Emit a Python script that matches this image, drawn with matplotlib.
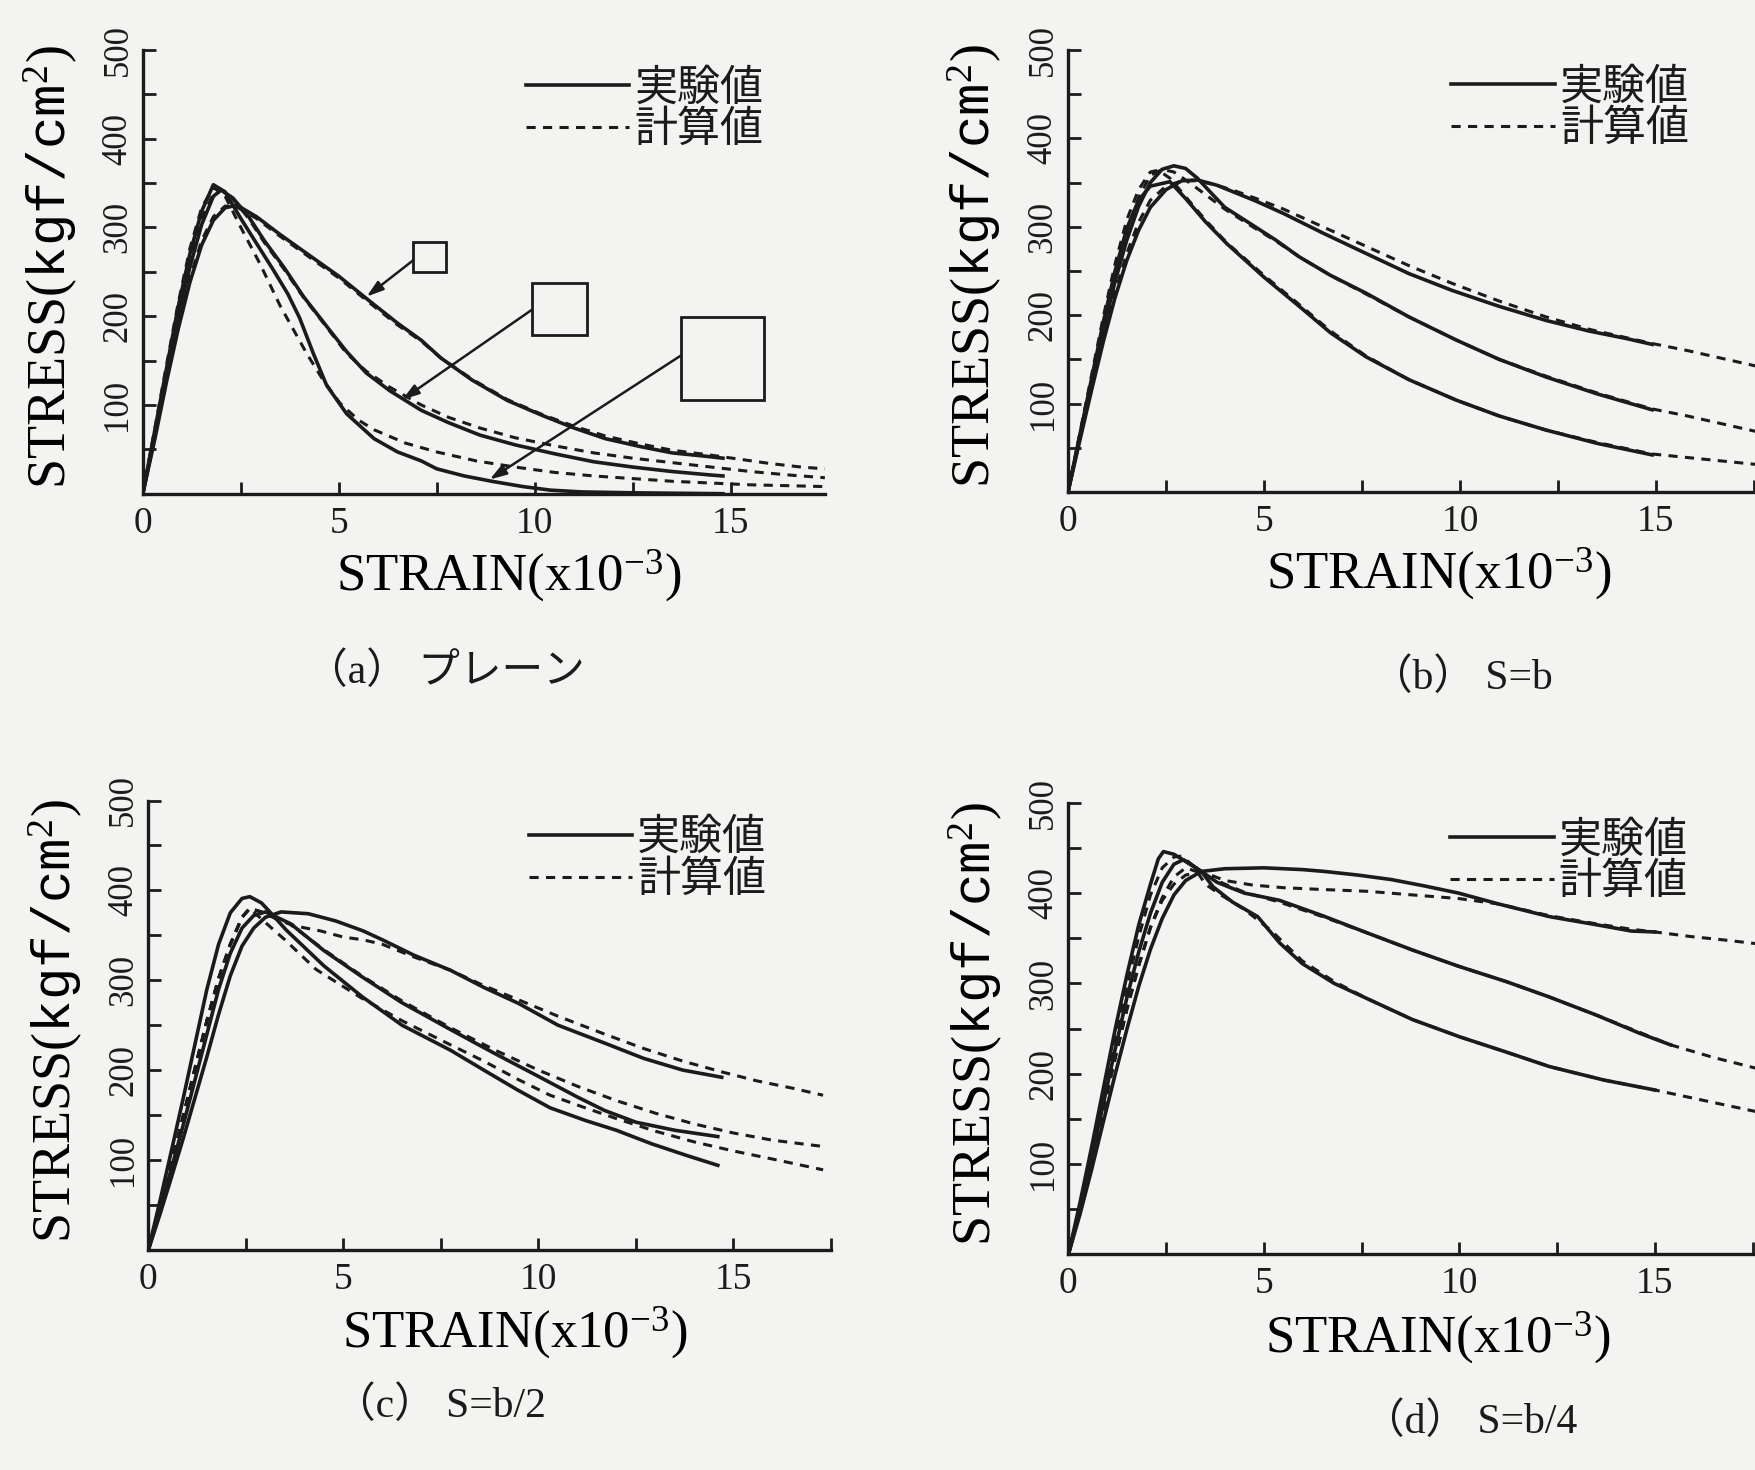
import matplotlib
matplotlib.use("Agg")
import matplotlib.pyplot as plt
from matplotlib.lines import Line2D
from matplotlib.patches import Rectangle
from matplotlib.ticker import FixedLocator

INK = "#1b1b1b"
PAPER = "#f3f3f1"

# ---------------------------------------------------------------------------
# Stress-strain data: (strain x1e-3, stress kgf/cm2)
# (a) plain concrete, three specimen sizes (small / medium / large)
PLAIN_EXP_SMALL = [(0, 0), (0.3, 60), (0.6, 125), (0.9, 185), (1.2, 238), (1.5, 280),
                   (1.8, 308), (2.1, 322), (2.4, 325), (2.9, 312), (3.5, 292), (4.2, 270),
                   (5.0, 245), (5.7, 220), (6.5, 192), (7.1, 173), (7.6, 153), (8.4, 128),
                   (9.3, 105), (10.2, 88), (11.0, 74), (11.8, 62), (12.7, 53), (13.5, 46),
                   (14.4, 42), (14.8, 40)]
PLAIN_CAL_SMALL = [(0, 0), (0.3, 62), (0.6, 128), (0.9, 190), (1.2, 243), (1.5, 285),
                   (1.8, 312), (2.1, 324), (2.4, 323), (2.9, 310), (3.5, 290), (4.2, 268),
                   (5.0, 243), (5.7, 218), (6.5, 190), (7.1, 172), (7.6, 153), (8.4, 129),
                   (9.3, 106), (10.2, 89), (11.0, 76), (11.8, 65), (12.7, 56), (13.5, 49),
                   (14.4, 44), (15.2, 39), (16.0, 34), (16.8, 30), (17.4, 28)]
PLAIN_EXP_MEDIUM = [(0, 0), (0.3, 65), (0.6, 132), (0.9, 198), (1.2, 255), (1.5, 303),
                    (1.8, 335), (2.0, 342), (2.3, 333), (2.7, 312), (3.1, 285), (3.6, 255),
                    (4.1, 222), (4.7, 188), (5.2, 160), (5.7, 136), (6.3, 116), (7.1, 94),
                    (7.8, 80), (8.6, 66), (9.5, 55), (10.5, 45), (11.5, 36), (12.5, 30),
                    (13.5, 25), (14.5, 21), (14.8, 20)]
PLAIN_CAL_MEDIUM = [(0, 0), (0.3, 68), (0.6, 136), (0.9, 203), (1.2, 262), (1.5, 310),
                    (1.8, 338), (2.0, 342), (2.3, 332), (2.7, 310), (3.1, 283), (3.6, 253),
                    (4.1, 221), (4.7, 187), (5.2, 158), (5.7, 138), (6.3, 120), (7.1, 100),
                    (7.8, 86), (8.6, 74), (9.5, 63), (10.5, 54), (11.5, 46), (12.5, 40),
                    (13.5, 35), (14.5, 30), (15.5, 25), (16.5, 21), (17.4, 18)]
PLAIN_EXP_LARGE = [(0, 0), (0.3, 70), (0.6, 140), (0.9, 210), (1.2, 270), (1.5, 318),
                   (1.8, 348), (2.1, 340), (2.5, 310), (3.0, 275), (3.33, 252), (3.7, 225),
                   (4.0, 198), (4.35, 158), (4.69, 122), (5.2, 90), (5.9, 62), (6.5, 47),
                   (7.1, 37), (7.5, 28), (8.2, 20), (8.9, 14), (9.7, 8), (10.4, 4),
                   (11.2, 2), (12.5, 1), (14.8, 0)]
PLAIN_CAL_LARGE = [(0, 0), (0.3, 72), (0.6, 144), (0.9, 214), (1.2, 276), (1.5, 322),
                   (1.8, 345), (2.1, 335), (2.5, 300), (3.0, 258), (3.5, 212), (4.18, 158),
                   (4.6, 128), (5.03, 102), (5.5, 83), (5.9, 72), (6.7, 57), (7.5, 47),
                   (8.5, 37), (9.5, 30), (10.5, 24), (11.5, 20), (12.5, 17), (13.5, 14),
                   (14.5, 12), (15.5, 10), (16.5, 9), (17.4, 8)]

# (b) S=b
SB_EXP_1 = [(0, 0), (0.3, 58), (0.6, 115), (0.9, 170), (1.2, 220), (1.5, 262), (1.8, 296),
            (2.1, 322), (2.5, 342), (2.9, 352), (3.3, 353), (3.8, 347), (4.3, 338),
            (4.8, 329), (5.5, 315), (6.5, 293), (7.5, 272), (8.7, 247), (9.8, 228),
            (11.0, 210), (12.2, 194), (13.3, 182), (14.2, 174), (14.9, 167)]
SB_CAL_1 = [(0, 0), (0.3, 60), (0.6, 118), (0.9, 175), (1.2, 226), (1.5, 270), (1.8, 305),
            (2.1, 330), (2.5, 346), (2.9, 352), (3.3, 352), (3.8, 347), (4.3, 340),
            (4.8, 332), (5.5, 320), (6.5, 300), (7.5, 280), (8.7, 256), (9.8, 236),
            (11.0, 216), (12.2, 198), (13.3, 184), (14.2, 175), (14.9, 168), (15.8, 160),
            (16.7, 151), (17.6, 142)]
SB_EXP_2 = [(0, 0), (0.3, 62), (0.6, 123), (0.9, 183), (1.2, 238), (1.5, 285), (1.8, 323),
            (2.1, 350), (2.4, 365), (2.7, 369), (3.0, 366), (3.3, 355), (3.7, 336),
            (4.0, 322), (4.6, 305), (5.3, 285), (5.9, 266), (6.7, 245), (7.6, 225),
            (8.7, 198), (9.9, 172), (11.0, 150), (12.2, 130), (13.5, 111), (14.9, 93)]
SB_CAL_2 = [(0, 0), (0.3, 64), (0.6, 128), (0.9, 190), (1.2, 246), (1.5, 295), (1.8, 333),
            (2.1, 358), (2.4, 365), (2.7, 362), (3.0, 353), (3.4, 340), (4.0, 320),
            (4.6, 303), (5.3, 284), (5.9, 266), (6.7, 245), (7.6, 224), (8.7, 198),
            (9.9, 172), (11.0, 150), (12.2, 131), (13.5, 112), (14.9, 94), (15.8, 86),
            (16.7, 77), (17.6, 68)]
SB_EXP_3 = [(0, 0), (0.3, 64), (0.6, 128), (0.9, 192), (1.2, 250), (1.5, 298), (1.8, 330),
            (2.1, 346), (2.6, 351), (3.0, 332), (3.5, 306), (4.05, 281), (5.0, 243),
            (5.9, 210), (6.7, 180), (7.6, 153), (8.7, 127), (9.9, 104), (11.0, 86),
            (12.2, 70), (13.5, 55), (14.9, 42)]
SB_CAL_3 = [(0, 0), (0.3, 66), (0.6, 132), (0.9, 198), (1.2, 258), (1.5, 308), (1.8, 342),
            (2.1, 362), (2.3, 364), (2.6, 355), (3.0, 334), (3.5, 308), (4.05, 282),
            (5.0, 245), (5.9, 212), (6.7, 182), (7.6, 154), (8.7, 127), (9.9, 104),
            (11.0, 86), (12.2, 70), (13.5, 56), (14.9, 43), (15.8, 39), (16.7, 35),
            (17.6, 31)]

# (c) S=b/2
SB2_EXP_1 = [(0, 0), (0.3, 40), (0.6, 82), (0.9, 125), (1.2, 170), (1.5, 215), (1.8, 262),
             (2.1, 305), (2.4, 338), (2.7, 358), (3.0, 370), (3.4, 376), (4.1, 374),
             (4.8, 366), (5.5, 355), (6.0, 345), (6.8, 328), (7.75, 311), (8.6, 292),
             (9.5, 274), (10.5, 250), (11.7, 230), (12.7, 213), (13.7, 200), (14.7, 192)]
SB2_CAL_1 = [(0, 0), (0.3, 48), (0.6, 98), (0.9, 150), (1.2, 203), (1.5, 255), (1.8, 302),
             (2.1, 340), (2.4, 370), (2.6, 380), (2.9, 376), (3.3, 368), (3.8, 360),
             (4.4, 355), (5.0, 348), (5.5, 345), (6.0, 340), (6.8, 326), (7.75, 311),
             (8.6, 294), (9.5, 278), (10.5, 260), (11.7, 240), (12.7, 224), (13.7, 210),
             (14.7, 198), (15.6, 188), (16.5, 180), (17.3, 172)]
SB2_EXP_2 = [(0, 0), (0.3, 45), (0.6, 92), (0.9, 140), (1.2, 190), (1.5, 240), (1.8, 290),
             (2.1, 330), (2.4, 358), (2.7, 372), (3.0, 376), (3.3, 370), (3.64, 363),
             (4.5, 333), (5.47, 304), (6.5, 275), (7.75, 245), (8.9, 218), (10.0, 193),
             (11.0, 170), (11.7, 155), (12.5, 142), (13.5, 133), (14.6, 126)]
SB2_CAL_2 = [(0, 0), (0.3, 48), (0.6, 98), (0.9, 150), (1.2, 203), (1.5, 255), (1.8, 302),
             (2.1, 340), (2.4, 370), (2.6, 380), (2.9, 376), (3.3, 368), (3.64, 362),
             (4.5, 334), (5.47, 305), (6.5, 277), (7.75, 247), (8.9, 222), (10.0, 200),
             (11.0, 182), (12.0, 166), (13.0, 152), (14.0, 140), (15.0, 130), (16.0, 122),
             (17.3, 115)]
SB2_EXP_3 = [(0, 0), (0.3, 55), (0.6, 112), (0.9, 170), (1.2, 230), (1.5, 290), (1.8, 340),
             (2.1, 375), (2.4, 391), (2.6, 393), (2.9, 386), (3.2, 372), (3.53, 356),
             (4.5, 316), (5.47, 282), (6.5, 250), (7.75, 222), (8.6, 200), (9.46, 178),
             (10.3, 158), (11.2, 144), (12.0, 133), (12.9, 118), (13.8, 105), (14.6, 94)]
SB2_CAL_3 = [(0, 0), (0.3, 48), (0.6, 98), (0.9, 150), (1.2, 203), (1.5, 255), (1.8, 302),
             (2.1, 340), (2.4, 370), (2.6, 380), (2.9, 368), (3.5, 345), (4.3, 312),
             (5.47, 280), (6.5, 255), (7.75, 228), (8.6, 210), (9.46, 190), (10.3, 172),
             (11.2, 158), (12.0, 146), (13.0, 132), (14.0, 120), (15.0, 110), (16.0, 101),
             (17.3, 89)]

# (d) S=b/4
SB4_EXP_1 = [(0, 0), (0.3, 45), (0.6, 95), (0.9, 148), (1.2, 200), (1.5, 250), (1.8, 297),
             (2.1, 338), (2.4, 372), (2.7, 398), (3.0, 414), (3.4, 424), (4.0, 427),
             (5.0, 428), (6.0, 426), (6.55, 424), (7.4, 420), (8.26, 415), (9.1, 408),
             (9.98, 400), (11.0, 388), (12.3, 374), (13.5, 365), (14.4, 358), (15.0, 357)]
SB4_CAL_1 = [(0, 0), (0.3, 50), (0.6, 105), (0.9, 162), (1.2, 218), (1.5, 272), (1.8, 320),
             (2.1, 362), (2.4, 392), (2.7, 410), (3.0, 420), (3.4, 424), (4.0, 414),
             (4.7, 409), (5.5, 406), (6.5, 404), (7.66, 402), (8.8, 398), (9.98, 394),
             (11.0, 388), (12.3, 375), (13.5, 366), (14.4, 360), (15.0, 357), (15.9, 352),
             (16.8, 348), (17.6, 344)]
SB4_EXP_2 = [(0, 0), (0.3, 52), (0.6, 108), (0.9, 168), (1.2, 228), (1.5, 285), (1.8, 335),
             (2.1, 378), (2.4, 412), (2.7, 432), (2.94, 437), (3.2, 430), (3.4, 424),
             (3.8, 412), (4.5, 400), (5.4, 392), (6.5, 375), (7.7, 355), (8.8, 337),
             (9.98, 319), (11.2, 302), (12.3, 285), (13.5, 265), (14.6, 245), (15.4, 232)]
SB4_CAL_2 = [(0, 0), (0.3, 50), (0.6, 105), (0.9, 162), (1.2, 218), (1.5, 272), (1.8, 320),
             (2.1, 362), (2.4, 395), (2.7, 418), (3.0, 428), (3.4, 422), (4.0, 410),
             (4.5, 401), (5.4, 390), (6.5, 374), (7.7, 355), (8.8, 337), (9.98, 319),
             (11.2, 302), (12.3, 285), (13.5, 265), (14.6, 246), (15.4, 232), (16.5, 218),
             (17.6, 206)]
SB4_EXP_3 = [(0, 0), (0.3, 58), (0.6, 120), (0.9, 185), (1.2, 250), (1.5, 310), (1.8, 365),
             (2.1, 410), (2.3, 438), (2.43, 446), (2.7, 443), (3.0, 435), (3.4, 424),
             (3.7, 407), (4.2, 390), (4.84, 374), (5.4, 345), (5.98, 322), (6.8, 300),
             (7.7, 282), (8.8, 260), (10.0, 241), (11.2, 224), (12.3, 208), (13.7, 193),
             (15.0, 182)]
SB4_CAL_3 = [(0, 0), (0.3, 55), (0.6, 114), (0.9, 176), (1.2, 238), (1.5, 298), (1.8, 352),
             (2.1, 398), (2.4, 428), (2.7, 440), (2.9, 441), (3.2, 430), (3.5, 410),
             (3.9, 398), (4.5, 382), (5.2, 358), (5.98, 325), (6.8, 302), (7.7, 282),
             (8.8, 260), (10.0, 241), (11.2, 224), (12.3, 208), (13.7, 193), (15.0, 182),
             (16.3, 170), (17.6, 158)]

PANEL_TITLES = ["（a） プレーン", "（b） S=b", "（c） S=b/2", "（d） S=b/4"]
LEGEND_LABELS = ["実験値", "計算値"]
X_TICKS = [0, 5, 10, 15]
Y_TICKS = [100, 200, 300, 400, 500]
X_LABEL = r"STRAIN(x10$^{-3}$)"
Y_LABEL = r"STRESS($\mathtt{kgf/cm}^{2}$)"

# ---------------------------------------------------------------------------
plt.rcParams.update({
    "font.family": ["Liberation Serif", "Noto Sans CJK JP"],
    "mathtext.fontset": "custom",
    "mathtext.rm": "Liberation Serif",
    "mathtext.it": "Liberation Serif:italic",
    "mathtext.bf": "Liberation Serif:bold",
    "mathtext.tt": "Liberation Mono",
    "axes.linewidth": 2.4,
    "text.color": INK,
    "axes.edgecolor": INK,
    "xtick.color": INK,
    "ytick.color": INK,
})

W, H = 1756, 1470
fig = plt.figure(figsize=(W / 100, H / 100), dpi=100, facecolor=PAPER)

# axes boxes in pixels: left, bottom(from top), px per strain unit, top(from top), xmax
panel_px = [
    (142.8, 493.7, 39.2, 49.8, 17.4),
    (1068.0, 492.0, 39.2, 50.0, 17.6),
    (148.4, 1249.8, 39.0, 800.5, 17.5),
    (1068.4, 1254.4, 39.1, 802.8, 17.6),
]
legend_anchor = [(0.91, 0.955), (0.90, 0.958), (0.905, 0.958), (0.90, 0.958)]
title_px = [(445, 672), (1462, 678), (440, 1406), (1470, 1422)]

panels = [
    ([PLAIN_EXP_SMALL, PLAIN_EXP_MEDIUM, PLAIN_EXP_LARGE],
     [PLAIN_CAL_SMALL, PLAIN_CAL_MEDIUM, PLAIN_CAL_LARGE]),
    ([SB_EXP_1, SB_EXP_2, SB_EXP_3], [SB_CAL_1, SB_CAL_2, SB_CAL_3]),
    ([SB2_EXP_1, SB2_EXP_2, SB2_EXP_3], [SB2_CAL_1, SB2_CAL_2, SB2_CAL_3]),
    ([SB4_EXP_1, SB4_EXP_2, SB4_EXP_3], [SB4_CAL_1, SB4_CAL_2, SB4_CAL_3]),
]

DASH = (0, (3.0, 2.4))
SOLID_LW = 2.6
DASH_LW = 2.2
axes = []
for i, ((exp_curves, cal_curves), (lx, by, ppu, ty, xmax)) in enumerate(zip(panels, panel_px)):
    width = ppu * xmax
    ax = fig.add_axes([lx / W, 1 - by / H, width / W, (by - ty) / H])
    ax.set_facecolor("none")
    axes.append(ax)

    for curve in cal_curves:
        xs, ys = zip(*curve)
        ax.plot(xs, ys, color=INK, lw=DASH_LW, ls=DASH, zorder=2)
    for curve in exp_curves:
        xs, ys = zip(*curve)
        ax.plot(xs, ys, color=INK, lw=SOLID_LW, ls="-", zorder=2.5)

    ax.set_xlim(0, xmax)
    ax.set_ylim(0, 500)
    ax.spines[["top", "right"]].set_visible(False)
    ax.xaxis.set_major_locator(FixedLocator(X_TICKS))
    ax.xaxis.set_minor_locator(FixedLocator([2.5, 7.5, 12.5, 17.5]))
    ax.yaxis.set_major_locator(FixedLocator(Y_TICKS))
    ax.yaxis.set_minor_locator(FixedLocator([50, 150, 250, 350, 450]))
    ax.tick_params(which="both", direction="in", length=9, width=2.0)
    ax.tick_params(axis="x", labelsize=27, pad=9)
    ax.tick_params(axis="y", labelsize=25, pad=6, labelrotation=90)
    for lab in ax.get_yticklabels():
        lab.set_va("center")

    ax.set_xlabel(X_LABEL, fontsize=38)
    ax.xaxis.set_label_coords(0.537, -0.185)
    ax.xaxis.label.set_va("center")
    ax.set_ylabel(Y_LABEL, fontsize=39)
    ax.yaxis.set_label_coords(-0.135, 0.51)
    ax.yaxis.label.set_va("center")

    handles = [Line2D([], [], color=INK, lw=SOLID_LW, ls="-"),
               Line2D([], [], color=INK, lw=DASH_LW, ls=DASH)]
    ax.legend(handles, LEGEND_LABELS, loc="upper right",
              bbox_to_anchor=legend_anchor[i], frameon=False, fontsize=31,
              handlelength=2.4, handletextpad=0.12, labelspacing=0.05,
              borderpad=0.0, borderaxespad=0.0)

    tx, ty_ = title_px[i]
    fig.text(tx / W, 1 - ty_ / H, PANEL_TITLES[i], ha="center", va="center", fontsize=30)

# size labels in the plain-concrete panel: boxes with leader arrows
ax = axes[0]
boxes = [((6.9, 250), 0.84, 34, (6.9, 263), (5.71, 222)),
         ((9.92, 179), 1.42, 58, (9.92, 207), (6.62, 106)),
         ((13.74, 105), 2.10, 94, (13.74, 156), (8.85, 16))]
for (x0, y0), bw, bh, start, tip in boxes:
    ax.add_patch(Rectangle((x0, y0), bw, bh, facecolor=PAPER, edgecolor=INK,
                           lw=2.0, zorder=4))
    ax.annotate("", xy=tip, xytext=start, zorder=4,
                arrowprops=dict(arrowstyle="-|>,head_length=1.0,head_width=0.32",
                                color=INK, lw=1.8, shrinkA=0, shrinkB=0))

fig.savefig("out.png", dpi=100, facecolor=PAPER)
